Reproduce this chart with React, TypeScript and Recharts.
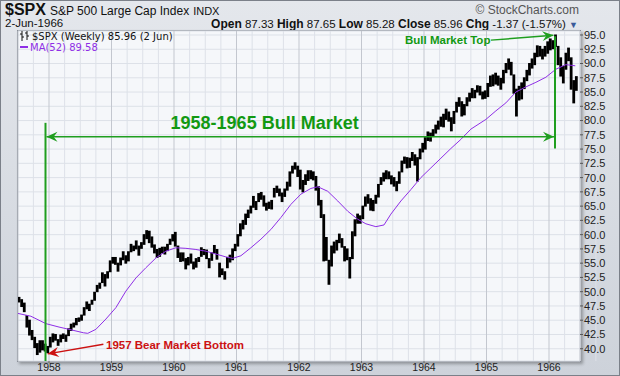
import React from "react";
import { ComposedChart, Bar, Line, XAxis, YAxis, CartesianGrid, ReferenceLine, ReferenceDot } from "recharts";

const firstPeriod = 1957.5;
const periodsPerYear = 24;

const lows = [
  // 1957 Jul-Dec
  48.2, 47.4, 46.5, 43.8, 42.4, 41.6, 40.2, 38.98, 39.4, 39.8, 39.6, 39.3,
  // 1958
  40.3, 41.2, 41.5, 40.6, 41.2, 41.8, 41.3, 42.3, 43.2, 43.8, 44.2, 44.8,
  45.0, 45.9, 47.0, 46.7, 47.8, 48.5, 50.0, 50.6, 51.6, 51.0, 52.4, 53.5,
  // 1959
  55.0, 54.8, 53.6, 54.7, 55.6, 55.0, 55.4, 57.0, 57.2, 57.5, 56.4, 57.6,
  58.3, 59.3, 58.6, 57.8, 56.8, 56.0, 56.2, 56.8, 56.6, 57.2, 58.3, 58.9,
  // 1960
  58.0, 56.0, 55.3, 55.4, 54.0, 54.7, 55.0, 54.0, 54.3, 55.3, 56.2, 56.5,
  55.8, 54.2, 55.5, 56.8, 55.7, 52.6, 53.0, 52.2, 54.2, 55.2, 55.6, 57.2,
  // 1961
  58.0, 59.8, 61.0, 61.8, 63.0, 63.8, 64.8, 64.4, 65.8, 66.2, 65.0, 64.3,
  64.6, 64.5, 66.6, 67.4, 66.8, 65.8, 66.7, 67.8, 68.5, 70.8, 71.5, 70.2,
  // 1962
  68.0, 67.5, 68.8, 69.5, 69.8, 69.6, 67.8, 65.2, 63.0, 55.4, 55.5, 51.3,
  54.5, 56.8, 57.3, 58.6, 57.8, 55.4, 55.6, 52.4, 55.8, 59.8, 62.0, 62.0,
  // 1963
  62.8, 65.0, 65.5, 64.3, 64.2, 65.5, 66.6, 68.8, 69.4, 69.8, 69.8, 68.9,
  68.5, 67.7, 69.0, 71.0, 72.5, 71.7, 71.8, 73.0, 72.2, 69.4, 73.3, 74.5,
  // 1964
  75.0, 76.5, 76.4, 77.2, 77.8, 78.5, 79.0, 78.9, 80.2, 79.9, 78.2, 79.5,
  81.5, 82.5, 80.8, 81.0, 82.6, 83.4, 84.0, 84.0, 85.0, 84.5, 83.8, 83.9,
  // 1965
  84.2, 86.0, 86.1, 86.4, 86.2, 85.5, 86.6, 88.4, 89.0, 88.0, 84.8, 80.8,
  83.6, 83.8, 85.6, 87.0, 88.0, 89.2, 89.8, 91.2, 91.3, 90.8, 91.3, 91.8,
  // 1966 Jan-Jun
  92.4, 92.6, 93.0, 89.8, 87.8, 86.6, 89.0, 90.5, 85.5, 83.1, 85.3,
];

const highs = [
  49.0, 48.6, 48.0, 45.8, 45.0, 43.2, 42.0, 40.9, 41.4, 41.4, 40.8, 40.4,
  42.0, 42.6, 42.5, 41.6, 42.4, 42.6, 42.4, 43.5, 44.3, 44.5, 45.3, 45.4,
  45.9, 47.2, 48.2, 47.8, 48.5, 49.9, 51.1, 51.5, 53.3, 53.0, 53.5, 55.4,
  56.0, 56.0, 55.0, 55.9, 57.0, 56.3, 57.0, 58.3, 58.0, 58.9, 58.0, 58.6,
  60.0, 60.7, 60.6, 59.6, 58.2, 57.4, 57.6, 57.8, 57.8, 58.3, 59.2, 60.0,
  60.4, 58.0, 56.8, 56.8, 55.8, 56.0, 56.6, 55.2, 55.8, 56.0, 57.7, 57.4,
  57.3, 55.8, 56.8, 58.1, 57.4, 55.0, 54.0, 53.5, 56.0, 56.4, 57.5, 58.3,
  60.0, 61.9, 62.5, 63.6, 64.3, 65.0, 66.7, 65.8, 67.2, 67.4, 66.8, 65.5,
  65.7, 66.0, 68.1, 68.5, 68.0, 67.3, 68.0, 69.2, 71.0, 72.0, 72.6, 72.0,
  71.3, 69.5, 70.5, 71.2, 71.2, 71.0, 70.2, 68.4, 66.0, 63.5, 59.5, 55.5,
  58.0, 58.7, 59.0, 60.1, 59.3, 57.9, 57.5, 56.0, 60.5, 62.6, 63.6, 63.3,
  65.0, 66.6, 67.0, 66.3, 66.0, 66.9, 68.8, 70.0, 70.8, 71.2, 71.0, 70.3,
  70.0, 69.3, 71.0, 72.9, 73.6, 73.5, 73.4, 74.4, 74.0, 73.5, 75.0, 76.0,
  77.0, 78.0, 77.8, 78.4, 79.2, 79.9, 80.6, 81.1, 82.0, 81.5, 80.5, 81.6,
  83.2, 84.0, 83.3, 82.8, 84.0, 84.8, 85.6, 85.3, 86.1, 86.0, 85.0, 85.2,
  86.5, 87.8, 88.0, 88.3, 87.8, 87.4, 88.8, 90.0, 90.8, 90.2, 88.0, 85.5,
  86.0, 86.6, 87.5, 88.8, 90.0, 90.8, 91.8, 93.1, 93.0, 92.5, 93.0, 93.8,
  94.3, 94.0, 95.0, 93.0, 91.0, 89.5, 91.8, 92.7, 91.0, 87.0, 87.7,
];

// 52-week moving average, read at points along the purple line
const maDates = [
  1957.5, 1957.71, 1957.95, 1958.16, 1958.32, 1958.55, 1958.62, 1958.75, 1958.91,
  1959.07, 1959.23, 1959.39, 1959.55, 1959.71, 1959.87, 1960.03, 1960.19, 1960.35,
  1960.51, 1960.67, 1960.83, 1960.94, 1961.07, 1961.23, 1961.39, 1961.55, 1961.71,
  1961.87, 1962.03, 1962.19, 1962.3, 1962.46, 1962.62, 1962.78, 1962.94, 1963.07,
  1963.23, 1963.36, 1963.47, 1963.63, 1963.79, 1963.95, 1964.11, 1964.27, 1964.43,
  1964.59, 1964.75, 1964.99, 1965.15, 1965.31, 1965.47, 1965.63, 1965.79, 1965.95,
  1966.11, 1966.27, 1966.42,
];
const maValues = [
  46.2, 45.7, 44.4, 43.8, 43.4, 42.8, 42.7, 43.4, 45.2,
  47.2, 50.1, 52.4, 54.2, 55.9, 57.1, 57.7, 57.6, 57.4,
  57.1, 56.6, 56.1, 55.85, 56.3, 57.7, 59.2, 60.9, 63.0,
  65.3, 67.1, 68.1, 68.4, 67.6, 65.9, 64.1, 62.7, 61.9,
  61.4, 61.7, 63.6, 65.9, 67.9, 70.0, 71.7, 73.4, 75.1,
  76.7, 78.5, 80.2, 81.7, 83.1, 85.0, 85.9, 86.7, 87.6,
  89.0, 89.8, 89.6,
];

const yearTicks = [1958, 1959, 1960, 1961, 1962, 1963, 1964, 1965, 1966];
const priceTicks = [
  40, 42.5, 45, 47.5, 50, 52.5, 55, 57.5, 60, 62.5, 65, 67.5,
  70, 72.5, 75, 77.5, 80, 82.5, 85, 87.5, 90, 92.5, 95,
];
const quarterLines = [1957.75, ...yearTicks.flatMap((y) => [y + 0.25, y + 0.5, y + 0.75])];

const xDomain: [number, number] = [1957.504, 1966.496];
const yDomain: [number, number] = [37.85, 95.7];

const priceData = lows.map((low, i) => ({
  t: firstPeriod + (i + 0.5) / periodsPerYear,
  low,
  high: highs[i],
}));
const maData = maDates.map((t, i) => ({ t, ma: maValues[i] }));

const GREEN = "#1f9e1f";
const RED = "#cc1111";
const FONT = "'Liberation Sans', Arial, sans-serif";

const arrowHead = (tx: number, ty: number, fx: number, fy: number, color: string) => {
  const len = Math.hypot(tx - fx, ty - fy) || 1;
  const ux = (tx - fx) / len;
  const uy = (ty - fy) / len;
  const L = 11;
  const W = 5;
  const bx = tx - ux * L;
  const by = ty - uy * L;
  const nx = tx - ux * L * 0.65;
  const ny = ty - uy * L * 0.65;
  const pts = [
    [tx, ty],
    [bx - uy * W, by + ux * W],
    [nx, ny],
    [bx + uy * W, by - ux * W],
  ];
  return <polygon points={pts.map((p) => p.join(",")).join(" ")} fill={color} stroke="none" />;
};

const arrow = (color: string, width: number, heads: "none" | "end" | "both") => (p: any) => {
  const { x1, y1, x2, y2 } = p;
  return (
    <g>
      <line x1={x1} y1={y1} x2={x2} y2={y2} stroke={color} strokeWidth={width} />
      {heads !== "none" && arrowHead(x2, y2, x1, y1, color)}
      {heads === "both" && arrowHead(x1, y1, x2, y2, color)}
    </g>
  );
};

const textMark = (text: string, color: string, size: number, anchor: "start" | "middle", dy: number) => (p: any) => (
  <text
    x={p.cx}
    y={p.cy + dy}
    textAnchor={anchor}
    fill={color}
    fontSize={size}
    fontWeight="bold"
    fontFamily={FONT}
  >
    {text}
  </text>
);

// high-low stick centred on its period, wide enough to touch its neighbours
const HighLowBar = (p: any) => {
  const { x, y, width, height } = p;
  if (x == null || y == null || height == null) return null;
  const cx = x + (width || 0) / 2;
  const top = Math.min(y, y + height);
  const h = Math.max(Math.abs(height), 2);
  return <rect x={cx - 1.4} y={top - 0.5} width={2.8} height={h + 1} fill="#000" />;
};

const quarterGrid = ({ xAxis, offset }: any) =>
  quarterLines.map((q) =>
    xAxis && typeof xAxis.scale === "function"
      ? xAxis.scale(q)
      : offset.left + ((q - xDomain[0]) / (xDomain[1] - xDomain[0])) * offset.width
  );

const OhlcIcon = () => (
  <svg width="9" height="10" style={{ marginRight: 3, verticalAlign: -1 }}>
    <path d="M2 0 V10 M0 3 H2 M2 6 H4 M7 0 V9 M5 2 H7 M7 5 H9" stroke="#111" strokeWidth="1" fill="none" />
  </svg>
);

const App = () => {
  return (
    <div
      style={{
        position: "absolute",
        left: 0,
        top: 0,
        width: 620,
        height: 376,
        boxSizing: "border-box",
        border: "1px solid #7b8089",
        background: "linear-gradient(to bottom, #e4e7ec, #cdd2da)",
        fontFamily: FONT,
        overflow: "hidden",
      }}
    >
      {/* header */}
      <div style={{ position: "absolute", left: 4, top: 0, whiteSpace: "nowrap", color: "#111" }}>
        <span style={{ fontSize: 16, fontWeight: "bold" }}>$SPX</span>
        <span style={{ fontSize: 12, marginLeft: 4 }}>S&amp;P 500 Large Cap Index</span>
        <span style={{ fontSize: 11, marginLeft: 4 }}>INDX</span>
      </div>
      <div style={{ position: "absolute", right: 40, top: 2, fontSize: 12, color: "#555" }}>© StockCharts.com</div>
      <div style={{ position: "absolute", left: 4, top: 16, fontSize: 11.5, color: "#111" }}>2-Jun-1966</div>
      <div style={{ position: "absolute", right: 41, top: 16, fontSize: 11.5, color: "#111", whiteSpace: "nowrap" }}>
        <b style={{ fontSize: 12 }}>Open</b> 87.33 <b style={{ fontSize: 12 }}>High</b> 87.65{" "}
        <b style={{ fontSize: 12 }}>Low</b> 85.28 <b style={{ fontSize: 12 }}>Close</b> 85.96{" "}
        <b style={{ fontSize: 12 }}>Chg</b> -1.37 (-1.57%) <span style={{ color: "#3a5a9a", fontSize: 9 }}>▼</span>
      </div>

      {/* plot frame */}
      <div
        style={{
          position: "absolute",
          left: 16,
          top: 29,
          width: 564,
          height: 332,
          boxSizing: "border-box",
          border: "1px solid #8a8f98",
          background: "#f5f7fa",
          boxShadow: "2px 2px 3px rgba(0,0,0,0.3)",
        }}
      />

      <div style={{ position: "absolute", left: 0, top: 0 }}>
        <ComposedChart
          width={620}
          height={376}
          data={priceData}
          margin={{ top: 30, right: 0, bottom: 0, left: 17 }}
        >
          <CartesianGrid
            stroke="#dde1e8"
            horizontal={true}
            vertical={true}
            verticalCoordinatesGenerator={quarterGrid}
          />
          <CartesianGrid stroke="#c3c7cf" horizontal={false} vertical={true} />
          <XAxis
            dataKey="t"
            type="number"
            domain={xDomain}
            allowDataOverflow
            ticks={yearTicks}
            interval={0}
            height={16}
            axisLine={false}
            tickSize={2}
            tickMargin={1}
            tickLine={{ stroke: "#666" }}
            tick={{ fontSize: 10.5, fill: "#222", fontFamily: FONT }}
          />
          <YAxis
            orientation="right"
            type="number"
            domain={yDomain}
            allowDataOverflow
            ticks={priceTicks}
            interval={0}
            width={41}
            axisLine={false}
            tickSize={3}
            tickMargin={1}
            tickLine={{ stroke: "#555" }}
            tickFormatter={(v: number) => v.toFixed(1)}
            tick={{ fontSize: 11, fill: "#222", fontFamily: FONT, textAnchor: "start" }}
          />
          <Bar
            dataKey={(d: any) => [d.low, d.high]}
            fill="#000"
            barSize={2}
            shape={HighLowBar}
            isAnimationActive={false}
          />
          <Line
            data={maData}
            dataKey="ma"
            type="linear"
            stroke="#8f2fe6"
            strokeWidth={1}
            dot={false}
            activeDot={false}
            isAnimationActive={false}
          />

          {/* bull market markers */}
          <ReferenceLine segment={[{ x: 1957.944, y: 79.6 }, { x: 1957.944, y: 37.85 }]} shape={arrow(GREEN, 2, "none")} />
          <ReferenceLine segment={[{ x: 1966.096, y: 94.8 }, { x: 1966.096, y: 75.1 }]} shape={arrow(GREEN, 2, "none")} />
          <ReferenceLine segment={[{ x: 1957.96, y: 77.17 }, { x: 1966.08, y: 77.17 }]} shape={arrow(GREEN, 1.5, "both")} />
          <ReferenceLine segment={[{ x: 1965.07, y: 94.1 }, { x: 1966.07, y: 94.95 }]} shape={arrow(GREEN, 1.5, "end")} />
          <ReferenceLine segment={[{ x: 1958.87, y: 40.8 }, { x: 1957.98, y: 39.1 }]} shape={arrow(RED, 1.5, "end")} />

          <ReferenceDot x={1961.45} y={79.6} r={0} shape={textMark("1958-1965 Bull Market", "#129912", 18, "middle", 6.5)} />
          <ReferenceDot x={1963.696} y={94.12} r={0} shape={textMark("Bull Market Top", "#129912", 11.5, "start", 4)} />
          <ReferenceDot x={1958.912} y={40.65} r={0} shape={textMark("1957 Bear Market Bottom", RED, 11.5, "start", 4)} />
        </ComposedChart>
      </div>

      {/* legend */}
      <div style={{ position: "absolute", left: 19, top: 30, fontFamily: "'DejaVu Sans', Verdana, sans-serif", fontSize: 10, lineHeight: "11px", whiteSpace: "nowrap" }}>
        <div style={{ color: "#111" }}>
          <OhlcIcon />$SPX (Weekly) 85.96 (2 Jun)
        </div>
        <div style={{ color: "#8f2fe6" }}>
          <span style={{ display: "inline-block", width: 8, height: 2, background: "#8f2fe6", verticalAlign: 3, marginRight: 2 }} />
          MA(52) 89.58
        </div>
      </div>
    </div>
  );
};

export default App;
